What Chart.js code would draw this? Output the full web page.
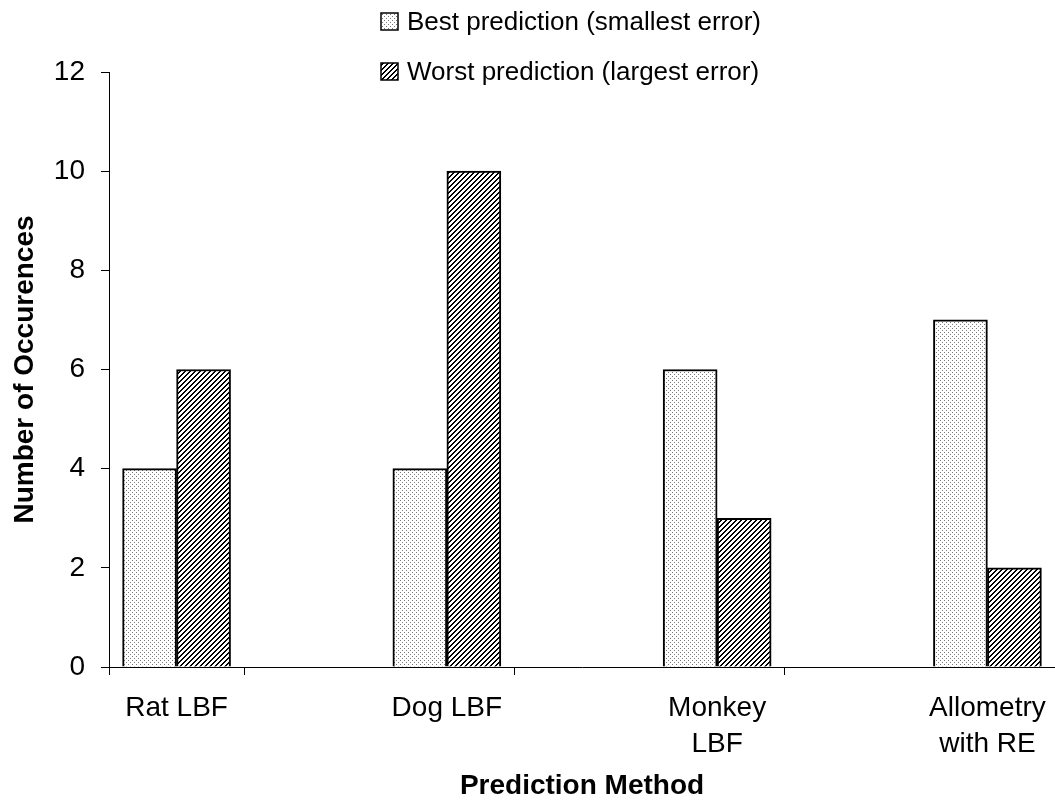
<!DOCTYPE html>
<html>
<head>
<meta charset="utf-8">
<script src="https://cdn.jsdelivr.net/npm/chart.js@4.4.0/dist/chart.umd.min.js"></script>
<style>
  html, body { margin: 0; padding: 0; background: #fff; }
  #wrap { width: 1055px; height: 805px; position: relative; }
</style>
</head>
<body>
<div id="wrap"><canvas id="chart"></canvas></div>
<script>
// ===== Dados =====
const methods = [['Rat LBF'], ['Dog LBF'], ['Monkey', 'LBF'], ['Allometry', 'with RE']];
const bestCounts = [4, 4, 6, 7];
const worstCounts = [6, 10, 3, 2];
const seriesNames = ['Best prediction (smallest error)', 'Worst prediction (largest error)'];
const yMin = 0;
const yMax = 12;
const yStep = 2;

const FAMILY = "'Liberation Sans', Arial, Helvetica, sans-serif";

// ===== Padrões de preenchimento =====
function makeTile(size, isInk) {
  const c = document.createElement('canvas');
  c.width = size; c.height = size;
  const cx = c.getContext('2d');
  const img = cx.createImageData(size, size);
  for (let y = 0; y < size; y++) {
    for (let x = 0; x < size; x++) {
      const v = isInk(x, y);
      const k = (y * size + x) * 4;
      img.data[k] = v; img.data[k + 1] = v; img.data[k + 2] = v; img.data[k + 3] = 255;
    }
  }
  cx.putImageData(img, 0, 0);
  return cx.createPattern(c, 'repeat');
}

// pontilhado cinza claro
const dotPattern = makeTile(4, (x, y) => ((x === 0 && y === 0) || (x === 2 && y === 2)) ? 120 : 255);
// hachura diagonal "/"
const hatchPattern = makeTile(5, (x, y) => ((x + y) % 5 < 2) ? 0 : 255);

// ===== Legenda flutuante (estilo Excel) =====
const floatLegend = {
  id: 'floatLegend',
  afterDraw(chart) {
    const ctx = chart.ctx;
    ctx.save();
    ctx.font = '26px ' + FAMILY;
    ctx.textBaseline = 'middle';
    chart.data.datasets.forEach((ds, i) => {
      const y = 22 + i * 50;
      ctx.fillStyle = ds.backgroundColor;
      ctx.fillRect(381, y - 9, 17, 17);
      ctx.strokeStyle = '#000';
      ctx.lineWidth = 1.5;
      ctx.strokeRect(381, y - 9, 17, 17);
      ctx.fillStyle = '#000';
      ctx.fillText(ds.label, 407, y + 1);
    });
    ctx.restore();
  }
};

const toPoints = arr => arr.map((v, i) => ({ x: i, y: v }));

new Chart(document.getElementById('chart'), {
  type: 'bar',
  data: {
    datasets: [
      {
        label: seriesNames[0],
        data: toPoints(bestCounts),
        backgroundColor: dotPattern,
        borderColor: '#000',
        borderWidth: 2,
        barThickness: 54
      },
      {
        label: seriesNames[1],
        data: toPoints(worstCounts),
        backgroundColor: hatchPattern,
        borderColor: '#000',
        borderWidth: 2,
        barThickness: 54
      }
    ]
  },
  options: {
    responsive: true,
    maintainAspectRatio: false,
    animation: false,
    layout: { padding: { top: 72, right: 0, left: 0, bottom: 0 } },
    plugins: {
      legend: { display: false },
      tooltip: { enabled: false }
    },
    scales: {
      x: {
        type: 'linear',
        offset: false,
        min: -0.25,
        max: methods.length - 0.75,
        afterBuildTicks(scale) {
          const vals = [-0.25];
          methods.forEach((m, i) => { vals.push(i, i + 0.25); });
          scale.ticks = vals.map(v => ({ value: v }));
        },
        afterFit(scale) {
          scale.height = 138;
          scale.paddingLeft = 0;
          scale.paddingRight = 0;
        },
        border: { display: true, color: '#000', width: 1 },
        grid: {
          offset: false,
          drawOnChartArea: false,
          drawTicks: true,
          tickLength: 8,
          tickWidth: 1,
          tickColor: ctx => (ctx.tick && Number.isInteger(ctx.tick.value)) ? 'rgba(0,0,0,0)' : '#000'
        },
        ticks: {
          autoSkip: false,
          maxRotation: 0,
          minRotation: 0,
          padding: 15,
          color: '#000',
          font: { family: FAMILY, size: 28, lineHeight: 1.3 },
          callback: value => Number.isInteger(value) ? methods[value] : ''
        },
        title: {
          display: true,
          text: 'Prediction Method',
          color: '#000',
          font: { family: FAMILY, size: 28, weight: 'bold' },
          padding: { top: 0, bottom: 2 }
        }
      },
      y: {
        min: yMin,
        max: yMax,
        afterFit(scale) { scale.width = 109; },
        border: { display: true, color: '#000', width: 1 },
        grid: {
          drawOnChartArea: false,
          drawTicks: true,
          tickLength: 8,
          tickColor: '#000'
        },
        ticks: {
          stepSize: yStep,
          padding: 16,
          color: '#000',
          font: { family: FAMILY, size: 28 }
        },
        title: {
          display: true,
          text: 'Number of Occurences',
          color: '#000',
          font: { family: FAMILY, size: 28, weight: 'bold' },
          padding: { top: 8, bottom: 0 }
        }
      }
    }
  },
  plugins: [floatLegend]
});
</script>
</body>
</html>
